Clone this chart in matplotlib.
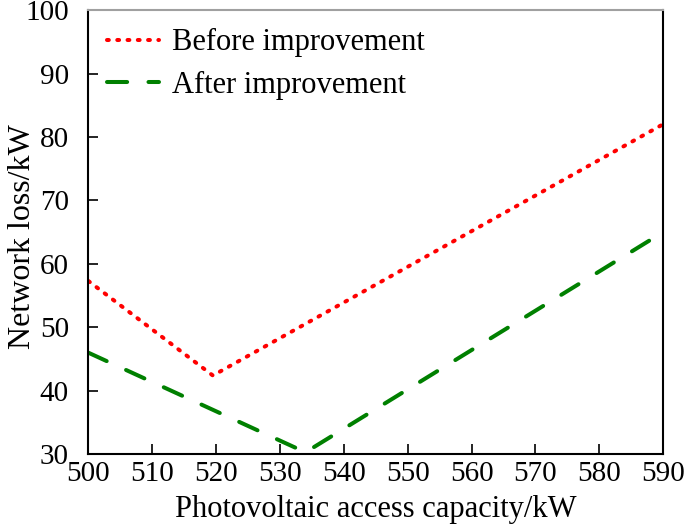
import matplotlib
matplotlib.use("Agg")
import matplotlib.pyplot as plt

plt.rcParams['font.family'] = ['Liberation Serif', 'DejaVu Serif']

before_x = [500, 519.5, 590]
before_y = [57.3, 42.4, 82.0]
after_x = [500, 534, 590]
after_y = [46.0, 30.3, 65.0]

xticks = list(range(500, 591, 10))
yticks = list(range(30, 101, 10))

fig = plt.figure(figsize=(6.85, 5.30), dpi=100)
ax = fig.add_axes([0.129, 0.143, 0.839, 0.838])

ax.plot(before_x, before_y, color='red', linestyle=(0, (0.45, 2.1)), linewidth=2.9,
        dash_capstyle='round', label='Before improvement')
ax.plot(after_x, after_y, color='green', linestyle=(0, (5.0, 5.3)), linewidth=2.9,
        dash_capstyle='round', label='After improvement')

ax.set_xlim(500, 590)
ax.set_ylim(30, 100)
ax.set_xticks(xticks)
ax.set_yticks(yticks)
ax.tick_params(direction='in', labelsize=21, length=7, width=1.2,
               top=False, right=False)
ax.tick_params(axis='x', pad=5)
ax.tick_params(axis='y', pad=14)
for s in ['left', 'bottom', 'right']:
    ax.spines[s].set_linewidth(1.5)
ax.spines['top'].set_color('#a0a0a0')
ax.spines['top'].set_linewidth(1.5)

ax.set_xlabel('Photovoltaic access capacity/kW', fontsize=22, labelpad=6)
ax.set_ylabel('Network loss/kW', fontsize=23)
# label sits close to the tick numbers, place it by hand
ax.yaxis.set_label_coords(-0.09, 0.49)

ax.legend(loc='upper left', frameon=False, fontsize=22, handlelength=1.7,
          borderaxespad=0.3, labelspacing=0.45, handletextpad=0.45,
          borderpad=0.3)

fig.savefig('out.png', dpi=100)
